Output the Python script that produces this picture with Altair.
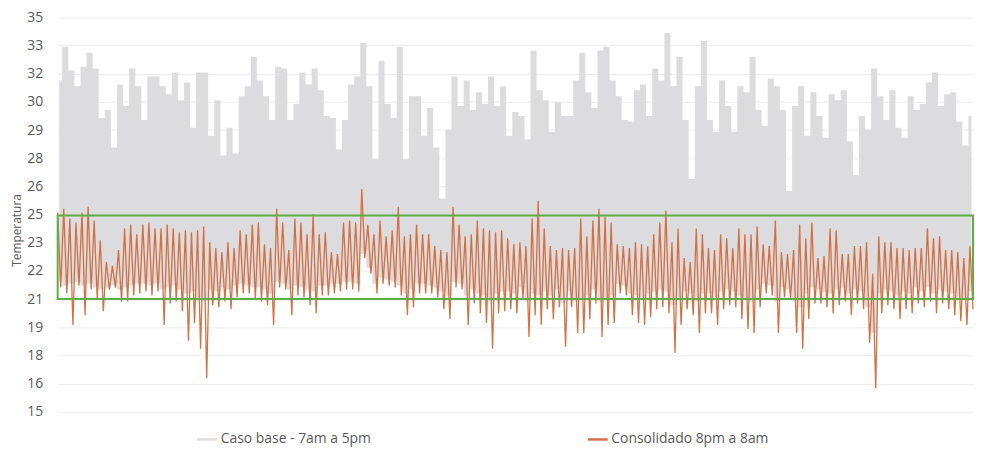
import json
import altair as alt
import pandas as pd

# ---- data (one value per ~6 px step) ----
base_hi = [31.8, 33.5, 32.3, 31.5, 32.5, 33.2, 32.4, 29.9, 30.3, 28.4,
           31.6, 30.5, 32.4, 31.5, 29.8, 32.0, 32.0, 31.5, 31.1, 32.2,
           30.8, 31.7, 29.4, 32.2, 32.2, 29.0, 30.8, 28.0, 29.4, 28.1,
           31.0, 31.5, 33.0, 31.8, 31.0, 29.8, 32.5, 32.4, 29.8, 30.6,
           32.2, 31.6, 32.4, 31.3, 30.0, 29.9, 28.3, 29.8, 31.6, 32.0,
           33.7, 31.5, 27.8, 32.8, 30.6, 29.9, 33.5, 27.8, 31.0, 31.0,
           29.0, 30.4, 28.4, 25.8, 29.3, 32.0, 30.5, 31.8, 30.3, 31.2,
           30.6, 32.0, 30.5, 31.5, 29.0, 30.2, 30.0, 28.8, 33.3, 31.3,
           30.8, 29.2, 30.7, 30.0, 30.0, 31.8, 33.2, 31.2, 30.4, 33.3,
           33.5, 31.8, 31.0, 29.8, 29.7, 31.3, 31.6, 30.0, 32.4, 31.8,
           34.2, 31.5, 33.0, 29.8, 26.8, 31.5, 33.8, 29.8, 29.2, 31.8,
           30.5, 29.2, 31.5, 31.2, 33.0, 30.3, 29.5, 31.9, 31.5, 30.3,
           26.2, 30.5, 31.5, 29.0, 31.2, 30.0, 28.9, 31.1, 30.8, 31.3,
           28.7, 27.0, 30.0, 29.3, 32.4, 31.0, 29.8, 31.3, 29.4, 28.9,
           31.0, 30.3, 30.6, 31.7, 32.2, 30.5, 31.1, 31.2, 29.7, 28.5,
           30.0]

base_lo = [21.6, 21.4, 21.5, 21.6, 21.4, 21.5, 21.3, 21.2, 21.3, 21.4,
           21.2, 21.3, 21.4, 21.5, 21.5, 21.4, 21.5, 21.2, 21.3, 21.4,
           21.2, 21.0, 21.1, 20.8, 20.6, 21.2, 21.1, 21.3, 21.2, 21.4,
           21.5, 21.4, 21.3, 21.3, 21.2, 21.0, 21.6, 21.5, 21.2, 21.4,
           21.3, 21.2, 21.1, 21.4, 21.4, 21.5, 21.5, 21.6, 21.6, 21.5,
           23.0, 22.3, 21.5, 21.8, 21.7, 21.6, 21.4, 21.0, 21.2, 21.5,
           21.5, 21.4, 21.3, 21.1, 20.9, 21.6, 21.5, 20.9, 21.2, 21.0,
           20.9, 20.6, 21.0, 21.1, 21.1, 21.0, 21.3, 20.6, 21.0, 20.9,
           21.1, 20.9, 21.2, 20.5, 21.1, 20.6, 20.7, 20.9, 21.2, 20.6,
           20.8, 20.9, 21.5, 21.4, 21.0, 20.9, 20.8, 21.0, 21.1, 21.2,
           21.1, 20.4, 20.8, 21.1, 21.0, 20.6, 21.0, 21.0, 20.8, 21.1,
           21.2, 21.1, 20.9, 20.7, 20.6, 21.2, 21.5, 21.4, 20.6, 21.3,
           21.2, 20.6, 20.3, 21.0, 21.3, 21.2, 21.1, 21.0, 21.2, 21.3,
           21.0, 21.2, 21.1, 20.3, 19.0, 21.0, 21.2, 21.1, 20.9, 21.1,
           21.0, 21.3, 21.1, 21.3, 21.0, 21.2, 21.1, 21.0, 20.8, 20.7,
           21.1]

cons_hi = [25.1, 25.3, 24.8, 24.6, 25.1, 25.4, 24.7, 23.7, 22.6, 22.4,
           23.2, 24.3, 24.5, 24.0, 24.5, 24.6, 24.3, 24.3, 24.5, 24.3,
           24.1, 24.2, 24.1, 24.2, 24.4, 23.6, 23.3, 23.1, 23.6, 23.3,
           24.2, 24.0, 24.5, 24.6, 23.5, 23.3, 25.3, 24.6, 23.2, 24.8,
           24.6, 24.0, 25.0, 24.0, 24.1, 23.1, 23.0, 24.6, 24.7, 24.6,
           26.3, 24.5, 24.0, 24.7, 23.9, 24.2, 25.4, 23.9, 24.0, 24.5,
           24.0, 24.0, 23.4, 23.2, 23.1, 25.4, 24.5, 23.9, 24.0, 24.7,
           24.3, 24.2, 24.1, 24.2, 23.8, 23.5, 23.6, 23.4, 24.8, 25.7,
           24.3, 23.4, 23.2, 23.3, 23.2, 23.3, 24.8, 23.9, 24.7, 25.3,
           24.9, 24.6, 23.5, 23.4, 23.3, 23.6, 23.5, 23.4, 24.0, 24.6,
           25.2, 23.6, 24.3, 22.8, 22.6, 24.3, 24.0, 23.3, 23.2, 24.0,
           23.8, 23.3, 24.3, 24.0, 24.0, 24.4, 23.5, 23.4, 24.7, 23.1,
           23.0, 23.2, 24.5, 23.8, 24.6, 22.8, 22.9, 24.3, 24.2, 23.0,
           23.0, 23.4, 23.4, 23.6, 22.0, 23.9, 23.6, 23.6, 23.3, 23.3,
           23.2, 23.3, 23.3, 24.3, 23.8, 23.9, 23.2, 23.2, 23.1, 22.8,
           23.4]

cons_lo = [21.3, 21.0, 19.4, 21.4, 19.9, 21.2, 20.7, 20.1, 21.2, 21.3,
           20.6, 20.6, 20.9, 21.0, 21.1, 20.9, 21.1, 19.4, 20.5, 20.6,
           20.1, 18.6, 19.5, 18.2, 16.7, 20.4, 20.3, 20.6, 20.2, 20.8,
           21.0, 21.0, 20.7, 20.6, 20.4, 19.4, 21.3, 21.2, 19.9, 20.9,
           20.8, 20.4, 20.0, 20.9, 20.9, 21.0, 21.1, 21.2, 21.2, 21.1,
           22.8, 22.0, 21.0, 21.5, 21.4, 21.3, 20.9, 19.9, 20.3, 21.0,
           21.0, 21.0, 20.8, 20.2, 19.7, 21.3, 21.2, 19.4, 20.5, 20.0,
           19.5, 18.2, 20.0, 20.1, 20.2, 20.0, 20.7, 18.8, 19.9, 19.4,
           20.2, 19.7, 20.3, 18.3, 20.3, 19.0, 19.0, 19.7, 20.5, 18.8,
           19.4, 19.5, 21.0, 20.9, 19.9, 19.5, 19.4, 19.8, 20.2, 20.3,
           20.0, 18.0, 19.4, 20.2, 19.9, 19.0, 20.0, 20.0, 19.4, 20.2,
           20.4, 20.3, 19.7, 19.2, 19.0, 20.3, 21.0, 20.9, 19.0, 20.8,
           20.7, 19.0, 18.2, 19.7, 20.5, 20.5, 20.3, 20.0, 20.4, 20.6,
           19.9, 20.5, 20.2, 18.5, 16.2, 20.0, 20.4, 20.2, 19.7, 20.2,
           20.0, 20.5, 20.3, 20.6, 20.0, 20.5, 20.2, 19.9, 19.6, 19.4,
           20.2]

tick_labels = ["15", "16", "18", "19", "21", "22", "23", "25",
               "26", "28", "29", "30", "32", "33", "35"]
series_names = ["Caso base - 7am a 5pm", "Consolidado 8pm a 8am"]
band = [20.72, 24.95]
y_range = [15, 35]

# ---- tables ----
n = len(base_hi)
gray_df = pd.DataFrame({
    "t": [i + 0.25 for i in range(n)],
    "hi": base_hi,
    "lo": base_lo,
    "serie": series_names[0],
})
rows = []
for i in range(n):
    rows.append({"t": i, "v": cons_hi[i], "serie": series_names[1]})
    rows.append({"t": i + 0.5, "v": cons_lo[i], "serie": series_names[1]})
cons_df = pd.DataFrame(rows)
band_df = pd.DataFrame({"x0": [0], "x1": [n - 0.5], "y0": [band[0]], "y1": [band[1]]})

step = (y_range[1] - y_range[0]) / (len(tick_labels) - 1)
tick_vals = [y_range[0] + k * step for k in range(len(tick_labels))]
label_expr = json.dumps(tick_labels) + f"[round((datum.value - {y_range[0]}) / {step})]"

xs = alt.Scale(domain=[0, n - 0.5], nice=False)
ys = alt.Scale(domain=y_range, nice=False)
cs = alt.Scale(domain=series_names, range=["#DCDCDE", "#D2693A"])

yaxis = alt.Axis(values=tick_vals, tickCount=len(tick_vals), labelExpr=label_expr,
                 title="Temperatura",
                 grid=True, gridColor="#EDEDED", domain=False, ticks=False,
                 labelFont="Open Sans", labelFontSize=14, labelColor="#595959",
                 labelPadding=15, labelOverlap=False, labelFlush=False,
                 titleFont="Open Sans", titleFontSize=12,
                 titleFontWeight="normal", titleColor="#595959",
                 titleX=-41, titleY=214, titleBaseline="middle", titleAngle=270)

legend = alt.Legend(title=None, orient="none", legendX=139, legendY=413,
                    direction="horizontal", symbolType="stroke", symbolSize=400,
                    symbolStrokeWidth=2.5, labelFont="Open Sans", labelFontSize=14,
                    labelLimit=400, labelColor="#595959", columnPadding=212,
                    labelOffset=2, padding=0)

gray = alt.Chart(gray_df).mark_area(interpolate="step").encode(
    x=alt.X("t:Q", scale=xs, axis=None),
    y=alt.Y("hi:Q", scale=ys, axis=yaxis),
    y2="lo:Q",
    color=alt.Color("serie:N", scale=cs, legend=legend),
)

cons = alt.Chart(cons_df).mark_line(strokeWidth=1.3, opacity=0.95).encode(
    x=alt.X("t:Q", scale=xs, axis=None),
    y=alt.Y("v:Q", scale=ys, axis=yaxis),
    color=alt.Color("serie:N", scale=cs, legend=legend),
)

box = alt.Chart(band_df).mark_rect(fillOpacity=0, stroke="#5FAE45", strokeWidth=2).encode(
    x=alt.X("x0:Q", scale=xs), x2="x1:Q",
    y=alt.Y("y0:Q", scale=ys, axis=yaxis), y2="y1:Q",
)

chart = alt.layer(gray, cons, box).properties(
    width=921, height=397,
    padding={"left": 50, "top": 8, "right": 2, "bottom": 36},
    autosize="none",
).configure_view(stroke=None)

chart.save("out.html", embed_options={"renderer": "svg", "actions": False})
